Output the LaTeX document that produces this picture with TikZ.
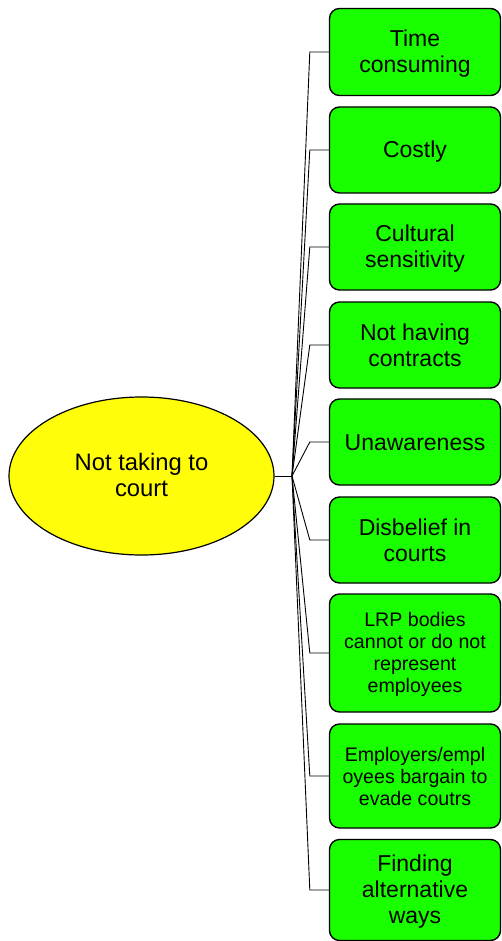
\documentclass[tikz,border=0pt]{standalone}
\usepackage{fontspec}
\setmainfont{Liberation Sans}
\usetikzlibrary{shapes.geometric}
\definecolor{boxgreen}{RGB}{26,255,0}
\definecolor{rootyellow}{RGB}{255,253,10}
\newcommand{\topstrut}{\rule{0pt}{20pt}}
\newcommand{\botstrut}{\rule[-4pt]{0pt}{4pt}}
\newcommand{\smalltop}{\rule{0pt}{17.5pt}}
\newcommand{\smallbot}{\rule[-3.5pt]{0pt}{3.5pt}}
\begin{document}
\begin{tikzpicture}[x=1pt,y=-1pt,
  boxbase/.style={draw=black,line width=1.4pt,fill=boxgreen,rounded corners=10pt,
    minimum width=171pt,inner sep=0pt,align=center},
  causebox/.style={boxbase,font=\fontsize{23}{26}\selectfont},
  smallbox/.style={boxbase,font=\fontsize{19.6}{22}\selectfont},
  rootnode/.style={ellipse,draw=black,line width=1.2pt,fill=rootyellow,
    minimum width=265pt,minimum height=158pt,inner sep=0pt,align=center,
    font=\fontsize{23.8}{26}\selectfont},
  link/.style={draw=black,line width=0.9pt}]
\useasboundingbox (0,0) rectangle (502,941);
\node[rootnode] (root) at (141.5,476) {Not taking to\\court\rule[-3pt]{0pt}{3pt}};
\node[causebox,minimum height=87pt] (b1) at (415,52) {\topstrut Time\\consuming\botstrut};
\node[causebox,minimum height=86pt] (b2) at (415,150) {\topstrut Costly\botstrut};
\node[causebox,minimum height=86pt] (b3) at (415,247) {\topstrut Cultural\\sensitivity\botstrut};
\node[causebox,minimum height=86pt] (b4) at (415,345) {\topstrut Not having\\contracts\botstrut};
\node[causebox,minimum height=86pt] (b5) at (415,442) {\topstrut Unawareness\botstrut};
\node[causebox,minimum height=86pt] (b6) at (415,540) {\topstrut Disbelief in\\courts\botstrut};
\node[smallbox,minimum height=118pt] (b7) at (415,653) {\smalltop LRP bodies\\cannot or do not\\represent\\employees\smallbot};
\node[smallbox,minimum height=104pt] (b8) at (415,776) {\smalltop Employers/empl\\oyees bargain to\\evade coutrs\smallbot};
\node[causebox,minimum height=101pt] (b9) at (415,890) {\topstrut Finding\\alternative\\ways\botstrut};
\coordinate (j) at (292,476);
\draw[link] (root.east) -- (j);
\foreach \b in {b1,b2,b3,b4,b5,b6,b7,b8,b9}{
  \draw[link] (j) -- ([xshift=-19pt]\b.west) -- (\b.west);
}
\end{tikzpicture}
\end{document}
